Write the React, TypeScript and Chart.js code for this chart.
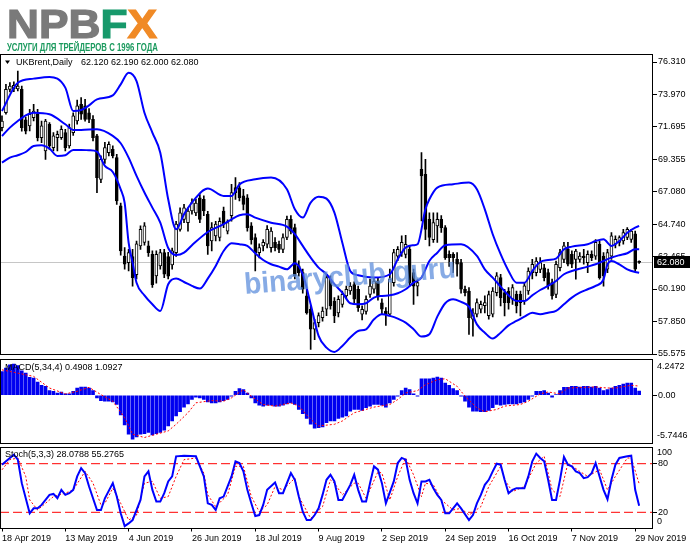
import React, { useEffect, useRef } from 'react';
import { Chart, registerables } from 'chart.js';

Chart.register(...registerables);

const FONT = '"Liberation Sans", Arial, sans-serif';

// ---------------- data ----------------
const symbolName = 'UKBrent,Daily';
const macdTitle = 'MACD(5,34,4)';
const stochTitle = 'Stoch(5,3,3)';

const dateLabels = ['18 Apr 2019', '13 May 2019', '4 Jun 2019', '26 Jun 2019', '18 Jul 2019', '9 Aug 2019', '2 Sep 2019', '24 Sep 2019', '16 Oct 2019', '7 Nov 2019', '29 Nov 2019'];
const dateLabelBars = [0, 16, 32, 48, 64, 80, 96, 112, 128, 144, 160];

const opens = [71.65,72.72,74.37,74.42,74.40,74.37,72.20,71.77,72.36,72.60, 70.94,70.00,71.89,70.23,70.94,70.94,71.30,70.35,71.30,72.12, 73.30,73.20,72.70,72.24,71.06,67.98,69.40,69.88,70.11,69.52, 66.09,62.53,62.06,62.50,61.20,63.25,63.50,63.25,62.65,61.12, 61.83,62.77,62.50,61.90,62.77,64.43,65.14,64.90,65.73,65.60, 66.67,66.55,65.50,63.60,63.96,63.85,65.73,64.30,65.40,67.40, 67.38,66.80,66.67,64.67,63.85,62.77,63.25,63.37,63.13,63.50, 63.37,63.00,63.85,65.14,64.55,61.83,61.35,59.70,58.75,57.33, 57.80,58.16,58.75,60.90,59.34,58.50,59.10,59.70,60.05,60.50, 60.17,58.40,58.60,59.80,60.17,60.76,59.20,58.63,58.40,60.64, 62.53,62.77,62.65,63.00,61.35,60.40,68.69,68.33,65.14,63.70, 64.67,65.14,64.55,62.65,62.65,62.30,62.06,60.17,60.05,58.04, 58.40,58.75,59.00,58.30,58.40,59.93,61.00,59.93,60.05,59.46, 59.81,59.81,59.34,60.05,61.35,61.35,61.59,61.70,61.35,60.64, 59.81,61.70,62.30,63.00,62.65,62.30,62.30,62.53,62.06,62.65, 62.53,63.37,62.53,61.60,62.53,63.37,63.50,63.60,63.85,63.72, 64.10,62.12];
const highs = [72.48,74.73,74.85,74.90,75.67,74.60,72.40,72.95,73.30,72.95, 72.12,72.24,72.00,71.30,71.41,71.77,71.53,71.90,72.70,73.60, 73.78,73.66,73.00,72.50,71.18,69.64,70.60,70.64,70.35,69.76, 66.30,63.13,63.00,63.00,63.60,64.67,64.90,63.60,62.90,62.90, 63.00,63.00,62.80,63.10,65.00,65.96,66.20,65.96,66.60,66.55, 66.90,66.80,65.70,64.90,65.00,65.25,66.00,65.10,67.62,68.10, 67.74,67.27,66.90,64.90,64.10,63.40,63.70,64.70,64.55,63.85, 63.60,64.10,65.37,65.40,64.80,62.20,61.60,60.17,59.00,58.04, 58.50,58.90,61.24,61.12,59.58,59.70,60.05,60.40,60.64,60.70, 60.40,59.00,59.70,60.90,61.00,61.00,59.50,58.87,61.60,63.00, 63.20,63.96,64.00,63.30,61.60,60.90,69.87,69.40,65.60,65.60, 65.60,65.40,64.70,62.90,62.77,62.77,62.30,60.40,60.30,58.80, 59.50,59.34,59.70,60.05,60.30,61.35,61.24,60.17,60.30,60.50, 60.05,60.05,60.64,61.70,62.30,62.42,62.42,61.95,61.60,60.90, 62.18,63.00,63.50,63.50,62.90,63.01,62.77,63.00,62.90,62.90, 63.70,63.60,62.77,63.00,64.20,63.96,63.96,64.43,64.55,64.43, 64.30,62.19];
const lows = [71.41,72.60,74.18,74.20,74.25,71.40,71.20,71.41,72.12,70.70, 70.58,69.40,70.10,70.00,70.00,70.82,70.00,70.20,71.10,71.90, 72.24,72.10,72.00,70.70,67.03,67.74,69.10,69.64,69.50,66.20, 62.60,61.60,61.47,60.40,60.90,63.00,63.30,62.50,60.30,60.60, 61.60,61.00,60.90,61.60,62.50,64.30,64.90,64.30,65.50,65.40, 64.90,65.40,62.65,62.90,63.60,63.60,64.55,64.10,65.00,66.55, 66.44,65.80,64.30,63.37,61.47,62.40,62.90,63.10,62.80,62.90, 62.77,62.77,63.70,64.10,60.90,61.10,59.90,58.40,55.90,56.60, 57.50,57.90,58.30,58.75,57.80,58.20,58.90,59.50,59.80,59.20, 58.60,58.00,58.40,59.60,59.90,59.40,58.40,57.60,58.28,60.40, 62.20,62.50,62.40,60.40,59.10,59.70,65.02,63.70,63.25,63.50, 63.50,64.20,62.30,61.80,61.35,61.10,59.90,59.70,56.97,56.85, 58.20,58.50,58.50,58.04,58.20,59.70,58.99,58.28,58.75,59.10, 58.50,58.28,59.10,59.80,60.90,61.12,61.35,60.76,60.17,59.46, 59.58,61.47,62.06,61.83,61.70,60.88,62.10,61.95,61.35,62.20, 62.30,60.88,60.40,61.35,62.30,63.10,63.25,63.37,63.70,63.50, 61.50,62.00];
const closes = [72.12,74.37,74.60,74.65,74.60,71.65,71.40,72.60,72.83,70.94, 71.77,72.12,70.35,71.06,71.18,71.53,70.23,71.65,72.48,73.20, 72.60,72.24,72.24,70.94,68.10,69.40,70.23,70.47,69.64,66.44, 62.90,61.95,62.77,61.00,63.40,64.43,64.67,62.77,60.50,62.65, 62.77,61.24,61.10,62.90,64.80,65.60,65.96,65.73,66.32,66.30, 65.14,65.73,63.25,64.55,64.80,65.00,64.80,64.90,67.03,67.03, 66.67,66.20,64.55,63.70,62.77,63.13,63.50,64.43,64.30,63.13, 63.00,63.85,65.14,64.30,61.12,61.35,60.17,58.50,57.33,57.80, 58.30,58.63,61.00,58.99,58.28,59.46,59.81,60.17,60.40,59.46, 58.87,58.75,59.46,60.40,60.76,59.70,58.75,58.40,60.90,62.77, 63.00,63.50,63.37,60.64,60.40,60.64,68.22,64.43,63.85,64.90, 65.14,64.55,62.42,62.42,62.42,61.95,60.17,59.93,58.16,58.50, 59.22,59.10,59.22,59.80,60.05,61.12,59.58,59.22,59.22,60.30, 58.99,59.22,60.41,61.47,61.95,62.18,62.06,61.00,60.41,59.70, 61.95,62.77,63.25,61.95,61.95,62.89,62.53,62.42,62.65,62.42, 63.50,61.00,61.12,62.77,63.96,63.72,63.85,64.20,64.43,64.30, 61.60,62.08];

const priceTicks = [76.31, 73.97, 71.695, 69.355, 67.08, 64.74, 62.465, 60.19, 57.85, 55.575];
const priceRange = [55.504, 76.843];

// Bollinger bands: [bar, price]
const bandUpper = [[0,72.83],[4,74.84],[8,75.13],[12,75.25],[16,74.49],[18,72.83],[20,72.90],[22,73.23],[24,73.66],[28,73.94],[30,74.72],[32,75.55],[34,74.96],[36,72.71],[38,71.30],[40,69.87],[42,66.56],[44,64.43],[46,65.50],[48,66.33],[52,67.32],[56,66.80],[58,66.80],[60,67.62],[64,67.98],[68,68.10],[72,67.27],[74,65.85],[76,65.26],[78,66.33],[80,66.75],[82,66.61],[84,65.62],[86,63.48],[88,61.47],[90,61.17],[94,61.00],[98,61.24],[100,62.30],[102,63.13],[104,63.30],[105,63.37],[107,65.85],[108,66.56],[110,67.39],[114,67.63],[118,67.75],[120,67.27],[122,65.85],[124,64.08],[126,62.66],[128,61.47],[130,60.64],[132,60.64],[134,61.47],[136,62.11],[138,62.25],[140,62.35],[142,63.01],[144,63.20],[148,63.37],[150,63.60],[152,63.72],[154,63.25],[156,63.60],[158,64.19],[160,64.55],[161,64.67]];
const bandMiddle = [[0,71.06],[2,71.65],[4,72.12],[6,72.52],[8,72.71],[12,72.60],[16,71.89],[18,71.49],[20,71.49],[24,71.53],[28,71.06],[30,70.54],[32,69.52],[34,68.22],[36,67.04],[38,65.97],[40,64.90],[42,63.10],[44,62.60],[46,62.77],[48,63.30],[52,64.24],[56,64.79],[58,65.14],[60,65.43],[62,65.50],[64,65.26],[68,64.90],[72,64.62],[74,64.08],[76,63.25],[78,62.42],[80,61.71],[82,61.24],[84,60.53],[86,59.93],[88,59.18],[90,59.11],[92,59.18],[94,59.58],[96,59.70],[98,59.74],[100,59.89],[102,60.17],[104,60.64],[106,61.00],[108,62.18],[110,62.77],[112,63.30],[116,63.37],[120,62.54],[122,61.59],[124,61.00],[126,60.36],[128,59.74],[130,59.34],[132,59.34],[134,59.74],[136,60.12],[138,60.41],[140,60.76],[142,61.24],[144,61.47],[148,61.78],[150,61.95],[152,62.18],[154,62.42],[156,62.59],[158,62.73],[160,63.01],[161,63.01]];
const bandLower = [[0,69.16],[2,69.52],[4,69.69],[6,69.92],[8,70.35],[10,70.40],[12,70.16],[14,69.64],[16,69.69],[18,70.07],[20,70.07],[22,70.04],[24,69.95],[26,68.93],[28,68.50],[30,67.27],[31,66.30],[32,63.48],[33,62.06],[34,60.64],[36,59.74],[38,59.11],[40,58.63],[42,60.53],[44,60.93],[46,60.69],[48,60.41],[50,60.22],[52,60.93],[54,61.83],[56,62.89],[58,63.44],[60,63.37],[62,63.25],[64,62.73],[66,62.25],[68,61.95],[70,61.78],[72,61.59],[74,62.02],[76,61.24],[78,59.11],[80,56.86],[82,56.03],[84,55.72],[86,56.15],[88,56.74],[90,57.21],[92,57.33],[94,58.04],[96,58.40],[98,58.28],[100,58.09],[102,57.80],[104,57.33],[106,56.81],[108,56.98],[110,58.23],[112,59.18],[114,59.46],[116,59.27],[118,58.94],[120,57.68],[122,57.09],[124,56.67],[126,57.09],[128,57.61],[130,57.92],[132,58.23],[134,58.51],[136,58.40],[138,58.51],[140,58.63],[142,59.11],[144,59.58],[146,59.93],[148,60.17],[150,60.41],[152,60.88],[153,61.94],[154,62.18],[156,61.94],[158,61.59],[160,61.40],[161,61.35]];

const macdHist = [2.82,3.22,3.61,3.69,3.53,2.90,2.63,2.12,2.04,1.57, 1.18,1.06,0.55,0.47,0.27,0.39,0.16,0.16,0.47,0.86, 0.98,0.98,0.86,0.55,-0.31,-0.63,-0.71,-0.71,-0.78,-1.10, -2.35,-3.53,-4.63,-5.22,-4.94,-4.63,-4.55,-4.43,-4.71,-4.55, -4.43,-4.16,-3.65,-3.06,-2.47,-1.96,-1.41,-1.02,-0.51,-0.24, -0.31,-0.51,-0.78,-0.90,-0.90,-0.78,-0.63,-0.51,-0.12,0.47, 0.78,0.67,0.27,-0.31,-0.90,-1.18,-1.29,-1.18,-1.18,-1.29, -1.29,-1.18,-1.02,-0.90,-1.10,-1.69,-2.20,-2.75,-3.45,-3.92, -3.84,-3.76,-3.25,-3.06,-3.06,-2.75,-2.59,-2.47,-1.88,-1.69, -1.69,-1.80,-1.49,-1.29,-1.10,-1.10,-1.18,-1.41,-0.90,-0.51, -0.12,0.55,0.86,0.67,0.16,-0.12,1.96,1.96,1.96,2.04, 2.16,2.04,1.45,1.18,0.78,0.55,-0.12,-0.71,-1.41,-1.88, -1.88,-1.96,-1.96,-1.80,-1.49,-1.10,-1.18,-1.10,-1.02,-1.02, -1.02,-0.90,-0.78,-0.51,-0.12,0.47,0.47,0.55,0.27,-0.24, 0.08,0.55,0.94,0.94,1.06,1.06,0.98,1.06,1.06,0.98, 1.06,0.86,0.55,0.67,0.86,1.06,1.18,1.33,1.45,1.45, 0.86,0.4908];
const macdSignal = [[0,3.02],[8,2.24],[12,0.86],[16,0.16],[19,0.47],[22,0.94],[25,0.08],[28,-0.71],[31,-2.67],[33,-4.63],[36,-5.02],[39,-4.63],[42,-4.24],[44,-3.45],[47,-2.08],[49,-0.90],[53,-0.63],[56,-0.71],[58,-0.31],[61,0.67],[63,-0.12],[66,-1.10],[69,-1.29],[73,-0.90],[75,-1.29],[78,-2.86],[80,-3.65],[84,-3.45],[86,-3.06],[89,-2.08],[94,-1.41],[98,-1.10],[100,-0.51],[102,0.27],[105,0.55],[107,1.25],[110,1.84],[112,1.96],[115,1.06],[117,-0.12],[120,-1.49],[122,-1.96],[125,-1.69],[127,-1.29],[131,-1.10],[133,-0.71],[136,0.16],[138,0.39],[141,0.16],[143,0.86],[147,0.94],[150,0.98],[153,0.86],[155,0.86],[159,1.18],[161,1.0927]];
const macdRange = [-5.7446, 4.2472];
const macdTicks = [0];

const stochMain = [[0,78.8],[1,82.9],[3,91.2],[4,85.0],[5,56.0],[7,18.7],[8,24.9],[9,24.9],[10,29.1],[12,41.5],[13,42.7],[14,37.3],[15,47.7],[16,41.5],[17,43.6],[18,47.7],[19,64.3],[20,74.6],[21,68.4],[22,51.8],[24,22.9],[25,22.9],[26,37.3],[28,56.0],[29,39.4],[30,18.7],[31,3.0],[32,6.3],[33,10.4],[35,35.3],[36,64.3],[37,70.5],[38,47.7],[39,33.2],[40,33.2],[41,43.6],[42,58.1],[43,64.3],[44,89.1],[46,89.9],[49,89.1],[50,76.7],[51,64.3],[52,31.1],[53,29.1],[54,22.9],[55,37.3],[56,39.4],[58,64.3],[59,82.9],[60,80.8],[61,70.5],[62,47.7],[63,31.1],[64,15.4],[65,16.6],[66,29.1],[67,47.7],[69,56.8],[70,43.6],[71,43.6],[73,68.4],[74,60.1],[75,39.4],[76,20.8],[77,10.4],[78,10.4],[79,16.6],[80,24.9],[81,41.5],[82,60.1],[83,66.3],[84,58.1],[85,35.3],[86,35.3],[88,53.9],[89,66.3],[90,47.7],[91,33.2],[92,33.2],[93,56.0],[94,76.7],[95,72.6],[96,56.0],[97,31.1],[99,58.1],[100,80.8],[101,87.1],[102,85.0],[103,60.1],[104,43.6],[105,31.1],[106,58.1],[107,58.1],[108,60.1],[109,49.8],[110,41.5],[111,35.3],[112,18.7],[113,18.7],[115,31.1],[116,24.9],[118,10.4],[119,16.6],[120,31.1],[121,41.5],[122,53.9],[123,60.1],[124,70.5],[125,80.0],[126,78.8],[127,60.1],[128,43.6],[129,47.7],[130,49.8],[131,49.8],[132,49.8],[133,64.3],[134,82.9],[135,92.4],[136,87.1],[137,82.9],[138,60.1],[139,35.3],[140,35.3],[141,60.1],[142,88.3],[143,78.8],[144,76.7],[145,70.5],[146,68.4],[147,62.2],[148,63.4],[149,68.4],[150,80.8],[151,64.3],[152,47.7],[153,36.1],[154,60.1],[155,78.8],[156,87.1],[158,89.1],[159,89.9],[160,47.7],[161,28.0788]];
const stochSignal = [[0,72.5],[2,85.0],[4,87.0],[6,64.3],[7,35.3],[9,22.9],[10,27.0],[13,39.4],[16,43.6],[18,47.7],[21,70.5],[23,56.0],[25,29.1],[26,31.1],[28,49.8],[30,31.1],[32,10.4],[34,16.6],[36,56.0],[38,58.1],[40,37.3],[42,39.4],[44,64.3],[46,85.0],[49,87.0],[51,68.4],[52,41.5],[54,27.0],[57,41.5],[59,76.7],[61,76.7],[63,39.4],[65,20.8],[67,29.1],[69,51.8],[71,47.7],[74,62.2],[75,39.4],[78,12.5],[81,27.0],[83,60.1],[84,56.0],[86,41.5],[89,56.0],[90,56.0],[92,37.3],[95,70.0],[96,68.4],[98,35.3],[100,64.3],[102,87.0],[104,66.3],[106,39.4],[107,56.0],[109,53.9],[111,35.3],[114,22.9],[116,24.9],[118,16.6],[121,27.0],[123,51.8],[126,76.7],[127,60.1],[129,45.6],[132,51.8],[135,80.8],[137,89.1],[139,47.7],[141,39.4],[143,80.8],[146,70.5],[148,64.3],[151,72.6],[153,47.7],[155,64.3],[158,87.0],[159,87.0],[161,55.2765]];
const stochRange = [0, 100];
const stochLevels = [20, 80];

// ---------------- layout ----------------
const X_MIN = -0.5;
const X_MAX = 164.5;
const AXIS_W = 38;
const LAST = opens.length - 1;

const pts = (arr: number[][]) => arr.map(([x, y]) => ({ x, y }));

const xHidden: any = { type: 'linear', min: X_MIN, max: X_MAX, display: false, offset: false };

function yAxis(range: number[], ticks: number[], fmt: (v: number) => string): any {
  return {
    position: 'right',
    min: range[0],
    max: range[1],
    afterFit: (s: any) => { s.width = AXIS_W; },
    afterBuildTicks: (s: any) => { s.ticks = ticks.map((v) => ({ value: v })); },
    ticks: { callback: (v: any) => fmt(Number(v)), color: '#000', font: { family: FONT, size: 9 }, padding: 1, autoSkip: false },
    grid: { drawOnChartArea: false, drawTicks: true, tickLength: 4, color: '#000', lineWidth: 1 },
    border: { display: false },
  };
}

function drawFrame(chart: any) {
  const { ctx, chartArea } = chart;
  const { left, top, right, bottom } = chartArea;
  const y0 = Math.floor(top) + 0.5;
  const y1 = Math.floor(bottom - 0.5) + 0.5;
  ctx.save();
  ctx.strokeStyle = '#000';
  ctx.lineWidth = 1;
  ctx.strokeRect(left + 0.5, y0, right - left - 1, y1 - y0);
  ctx.restore();
}

function drawTitle(chart: any, text: string, dy: number, x: number) {
  const { ctx, chartArea } = chart;
  ctx.save();
  ctx.fillStyle = '#000';
  ctx.font = `9px ${FONT}`;
  ctx.textBaseline = 'middle';
  ctx.textAlign = 'left';
  ctx.fillText(text, chartArea.left + x, chartArea.top + dy);
  ctx.restore();
}

function drawEdgeLabels(chart: any, topText: string, topDy: number, botText: string, botDy: number) {
  const { ctx, chartArea } = chart;
  ctx.save();
  ctx.fillStyle = '#000';
  ctx.font = `9px ${FONT}`;
  ctx.textBaseline = 'middle';
  ctx.textAlign = 'left';
  ctx.fillText(topText, chartArea.right + 4, chartArea.top + topDy);
  ctx.fillText(botText, chartArea.right + 4, chartArea.bottom - botDy);
  ctx.restore();
}

const mainDecor: any = {
  id: 'mainDecor',
  beforeDatasetsDraw(chart: any) {
    const { ctx, chartArea } = chart;
    const y = Math.floor(chart.scales.y.getPixelForValue(closes[LAST])) + 0.5;
    ctx.save();
    ctx.strokeStyle = '#c6c6c6';
    ctx.lineWidth = 1;
    ctx.beginPath();
    ctx.moveTo(chartArea.left, y);
    ctx.lineTo(chartArea.right, y);
    ctx.stroke();
    ctx.restore();
  },
  afterDraw(chart: any) {
    drawFrame(chart);
    const { ctx, chartArea } = chart;
    const { left, top, right } = chartArea;
    ctx.save();
    ctx.fillStyle = '#000';
    ctx.beginPath();
    ctx.moveTo(left + 5, top + 6);
    ctx.lineTo(left + 10, top + 6);
    ctx.lineTo(left + 7.5, top + 9.5);
    ctx.closePath();
    ctx.fill();
    ctx.restore();
    drawTitle(chart, symbolName, 8, 16);
    drawTitle(chart, [opens[LAST], highs[LAST], lows[LAST], closes[LAST]].map((v) => v.toFixed(3)).join(' '), 8, 81);
    const yp = Math.round(chart.scales.y.getPixelForValue(closes[LAST]));
    ctx.save();
    ctx.fillStyle = '#000';
    ctx.fillRect(right + 1, yp - 6, 36, 12);
    ctx.fillStyle = '#fff';
    ctx.font = `9px ${FONT}`;
    ctx.textBaseline = 'middle';
    ctx.textAlign = 'left';
    ctx.fillText(closes[LAST].toFixed(3), right + 4, yp + 0.5);
    ctx.restore();
  },
};

const macdDecor: any = {
  id: 'macdDecor',
  afterDraw(chart: any) {
    drawFrame(chart);
    const sig = macdSignal[macdSignal.length - 1][1];
    drawTitle(chart, `${macdTitle} ${macdHist[LAST].toFixed(4)} ${sig.toFixed(4)}`, 8.5, 5);
    drawEdgeLabels(chart, macdRange[1].toFixed(4), 7.2, macdRange[0].toFixed(4), 8.5);
  },
};

const stochDecor: any = {
  id: 'stochDecor',
  afterDraw(chart: any) {
    drawFrame(chart);
    const m = stochMain[stochMain.length - 1][1];
    const s = stochSignal[stochSignal.length - 1][1];
    drawTitle(chart, `${stochTitle} ${m.toFixed(4)} ${s.toFixed(4)}`, 7.5, 5);
    drawEdgeLabels(chart, String(stochRange[1]), 5.2, String(stochRange[0]), 6.8);
  },
};

const baseOptions = (padTop: number, padBottom: number) => ({
  responsive: false,
  animation: false,
  events: [],
  layout: { padding: { top: padTop, bottom: padBottom, left: 0, right: 0 } },
  plugins: { legend: { display: false }, tooltip: { enabled: false } },
});

function band(data: number[][]) {
  return {
    type: 'line',
    data: pts(data),
    borderColor: '#0000ff',
    borderWidth: 2,
    pointRadius: 0,
    cubicInterpolationMode: 'monotone',
    fill: false,
    order: 1,
  };
}

function mainConfig(): any {
  return {
    type: 'line',
    data: {
      datasets: [
        {
          type: 'bar',
          data: opens.map((_, i) => ({ x: i, y: [lows[i], highs[i]] })),
          backgroundColor: '#000',
          borderWidth: 0,
          barThickness: 1,
          grouped: false,
          order: 3,
        },
        {
          type: 'bar',
          data: opens.map((o, i) => ({ x: i, y: [o, closes[i]] })),
          backgroundColor: opens.map((o, i) => (closes[i] >= o ? '#ffffff' : '#000000')),
          borderColor: '#000',
          borderWidth: 1,
          borderSkipped: false,
          barThickness: 3,
          minBarLength: 1,
          grouped: false,
          order: 2,
        },
        band(bandUpper),
        band(bandMiddle),
        band(bandLower),
      ],
    },
    options: {
      ...baseOptions(14.5, 10),
      scales: { x: xHidden, y: yAxis(priceRange, priceTicks, (v) => v.toFixed(3)) },
    },
    plugins: [mainDecor],
  };
}

function macdConfig(): any {
  return {
    type: 'line',
    data: {
      datasets: [
        {
          type: 'bar',
          data: macdHist.map((v, i) => ({ x: i, y: v })),
          backgroundColor: '#0000f0',
          borderWidth: 0,
          barThickness: 3,
          grouped: false,
          order: 2,
        },
        {
          type: 'line',
          data: pts(macdSignal),
          borderColor: '#ff0000',
          borderWidth: 1,
          borderDash: [2, 2],
          pointRadius: 0,
          fill: false,
          order: 1,
        },
      ],
    },
    options: {
      ...baseOptions(9.5, 5.5),
      scales: { x: xHidden, y: yAxis(macdRange, macdTicks, (v) => v.toFixed(2)) },
    },
    plugins: [macdDecor],
  };
}

function stochConfig(): any {
  return {
    type: 'line',
    data: {
      datasets: [
        ...stochLevels.map((l) => ({
          type: 'line',
          data: [{ x: X_MIN, y: l }, { x: X_MAX, y: l }],
          borderColor: '#ff0000',
          borderWidth: 1,
          borderDash: [9, 4],
          pointRadius: 0,
          fill: false,
          order: 3,
        })),
        {
          type: 'line',
          data: pts(stochSignal),
          borderColor: '#ff0000',
          borderWidth: 1,
          borderDash: [2, 2],
          pointRadius: 0,
          fill: false,
          order: 2,
        },
        {
          type: 'line',
          data: pts(stochMain),
          borderColor: '#0000ff',
          borderWidth: 2,
          pointRadius: 0,
          fill: false,
          order: 1,
        },
      ],
    },
    options: {
      ...baseOptions(7.5, 0),
      scales: {
        x: {
          type: 'linear',
          min: X_MIN,
          max: X_MAX,
          position: 'bottom',
          offset: false,
          afterFit: (s: any) => { s.height = 20.5; },
          afterBuildTicks: (s: any) => { s.ticks = dateLabelBars.map((v) => ({ value: v })); },
          ticks: {
            callback: (v: any) => { const k = dateLabelBars.indexOf(Number(v)); return k >= 0 ? dateLabels[k] : ''; },
            align: 'start',
            maxRotation: 0,
            minRotation: 0,
            autoSkip: false,
            padding: 2,
            color: '#000',
            font: { family: FONT, size: 9 },
          },
          grid: { drawOnChartArea: false, drawTicks: true, tickLength: 3, color: '#000' },
          border: { display: false },
        },
        y: yAxis(stochRange, stochLevels, (v) => String(Math.round(v))),
      },
    },
    plugins: [stochDecor],
  };
}

export default function App() {
  const mainRef = useRef<HTMLCanvasElement>(null);
  const macdRef = useRef<HTMLCanvasElement>(null);
  const stochRef = useRef<HTMLCanvasElement>(null);

  useEffect(() => {
    const charts = [
      new Chart(mainRef.current as HTMLCanvasElement, mainConfig()),
      new Chart(macdRef.current as HTMLCanvasElement, macdConfig()),
      new Chart(stochRef.current as HTMLCanvasElement, stochConfig()),
    ];
    return () => charts.forEach((c) => c.destroy());
  }, []);

  const abs = (top: number, h: number): React.CSSProperties => ({ position: 'absolute', left: 0, top, width: 691, height: h });

  return (
    <div style={{ position: 'absolute', left: 0, top: 0, width: 691, height: 549, background: '#fff', overflow: 'hidden' }}>
      <canvas ref={mainRef} width={691} height={325} style={abs(40, 325)} />
      <canvas ref={macdRef} width={691} height={100} style={abs(350, 100)} />
      <canvas ref={stochRef} width={691} height={109} style={abs(440, 109)} />
      <svg width={691} height={549} style={{ position: 'absolute', left: 0, top: 0, pointerEvents: 'none' }}>
        <text x={7} y={37.5} fontFamily={FONT} fontWeight={700} fontSize={40} textLength={150} lengthAdjust="spacingAndGlyphs" strokeWidth={1.2}>
          <tspan fill="#7a7a7a" stroke="#7a7a7a">NPB</tspan>
          <tspan fill="#17996b" stroke="#17996b">F</tspan>
          <tspan fill="#f08a26" stroke="#f08a26">X</tspan>
        </text>
        <text x={7} y={50.5} fontFamily={FONT} fontWeight={700} fontSize={10} fill="#1b9a5e" textLength={151} lengthAdjust="spacingAndGlyphs">
          УСЛУГИ ДЛЯ ТРЕЙДЕРОВ С 1996 ГОДА
        </text>
        <text x={245} y={294} transform="rotate(-4.5 245 294)" fontFamily={FONT} fontWeight={700} fontSize={30} fill="#5f8fdc" fillOpacity={0.75} textLength={212} lengthAdjust="spacingAndGlyphs">
          binaryclub.guru
        </text>
      </svg>
    </div>
  );
}
